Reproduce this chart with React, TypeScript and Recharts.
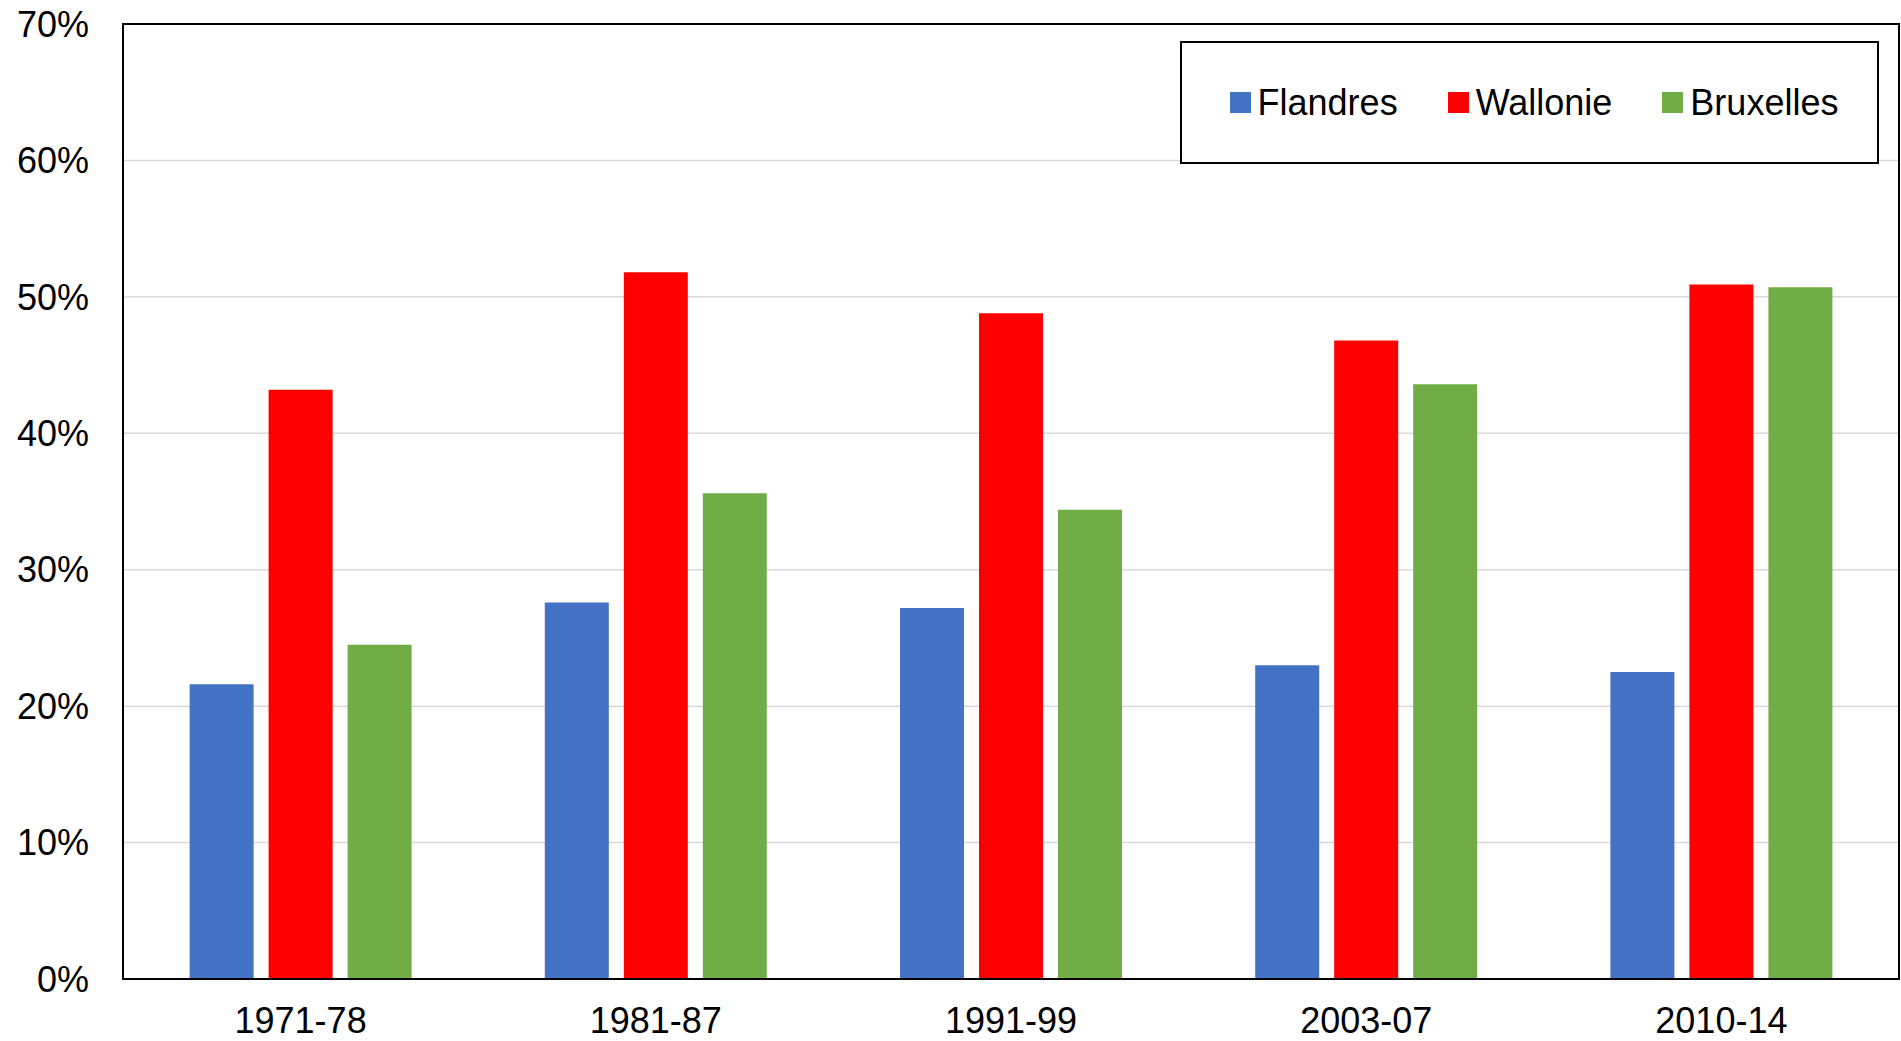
import React from 'react';
import {
  BarChart,
  Bar,
  XAxis,
  YAxis,
  CartesianGrid,
  Legend,
  ReferenceArea
} from 'recharts';

// Periods on the x axis
const periods = ['1971-78', '1981-87', '1991-99', '2003-07', '2010-14'];

// Shares in percent
const flandres = [21.6, 27.6, 27.2, 23.0, 22.5];
const wallonie = [43.2, 51.8, 48.8, 46.8, 50.9];
const bruxelles = [24.5, 35.6, 34.4, 43.6, 50.7];

const yTicks = [0, 10, 20, 30, 40, 50, 60, 70];

const FONT = '"Liberation Sans", Arial, sans-serif';

const SERIES = [
  { key: 'flandres', name: 'Flandres', color: '#4472C4' },
  { key: 'wallonie', name: 'Wallonie', color: '#FF0000' },
  { key: 'bruxelles', name: 'Bruxelles', color: '#70AD47' },
];

const data = periods.map((p, i) => ({
  period: p,
  flandres: flandres[i],
  wallonie: wallonie[i],
  bruxelles: bruxelles[i],
}));

// Legend drawn as a boxed row, like the original (keep series order)
const renderLegend = (props: any) => {
  const payload = [...(props.payload || [])].sort(
    (a: any, b: any) =>
      SERIES.findIndex(s => s.name === a.value) - SERIES.findIndex(s => s.name === b.value)
  );
  return (
    <div
      style={{
        width: '100%',
        height: '100%',
        display: 'flex',
        alignItems: 'center',
        justifyContent: 'center',
        gap: 50,
        paddingLeft: 9,
        boxSizing: 'border-box',
        fontFamily: FONT,
        fontSize: 36,
        color: '#000',
      }}
    >
      {payload.map((entry: any) => (
        <div key={entry.value} style={{ display: 'flex', alignItems: 'center', gap: 7 }}>
          <span style={{ display: 'inline-block', width: 21, height: 21, background: entry.color }} />
          <span style={{ lineHeight: '36px' }}>{entry.value}</span>
        </div>
      ))}
    </div>
  );
};

export default function App() {
  return (
    <div style={{ position: 'absolute', left: 0, top: 0, background: '#fff' }}>
      <BarChart
        width={1901}
        height={1041}
        data={data}
        margin={{ top: 24, right: 2, bottom: 0, left: 0 }}
        barCategoryGap="18.75%"
        barGap={15}
      >
        <CartesianGrid vertical={false} stroke="#d9d9d9" strokeWidth={1.5} />
        <XAxis
          dataKey="period"
          height={62}
          tickSize={0}
          tickMargin={28}
          tickLine={false}
          axisLine={{ stroke: '#000', strokeWidth: 2 }}
          tick={{ fill: '#000', fontSize: 36, fontFamily: FONT }}
        />
        <YAxis
          width={123}
          domain={[0, 70]}
          ticks={yTicks}
          tickSize={0}
          tickMargin={34}
          tickLine={false}
          tickFormatter={(v: number) => `${v}%`}
          axisLine={{ stroke: '#000', strokeWidth: 2 }}
          tick={{ fill: '#000', fontSize: 36, fontFamily: FONT }}
        />
        {/* plot frame (top and right edges) */}
        <ReferenceArea
          x1={periods[0]}
          x2={periods[periods.length - 1]}
          y1={0}
          y2={70}
          fill="none"
          stroke="#000"
          strokeWidth={2}
        />
        <Legend
          layout="horizontal"
          align="center"
          verticalAlign="middle"
          content={renderLegend}
          wrapperStyle={{
            position: 'absolute',
            left: 1180,
            top: 41,
            width: 699,
            height: 123,
            border: '2px solid #000',
            background: '#fff',
            boxSizing: 'border-box',
          }}
        />
        {SERIES.map((s) => (
          <Bar
            key={s.key}
            dataKey={s.key}
            name={s.name}
            fill={s.color}
            isAnimationActive={false}
          />
        ))}
      </BarChart>
    </div>
  );
}
